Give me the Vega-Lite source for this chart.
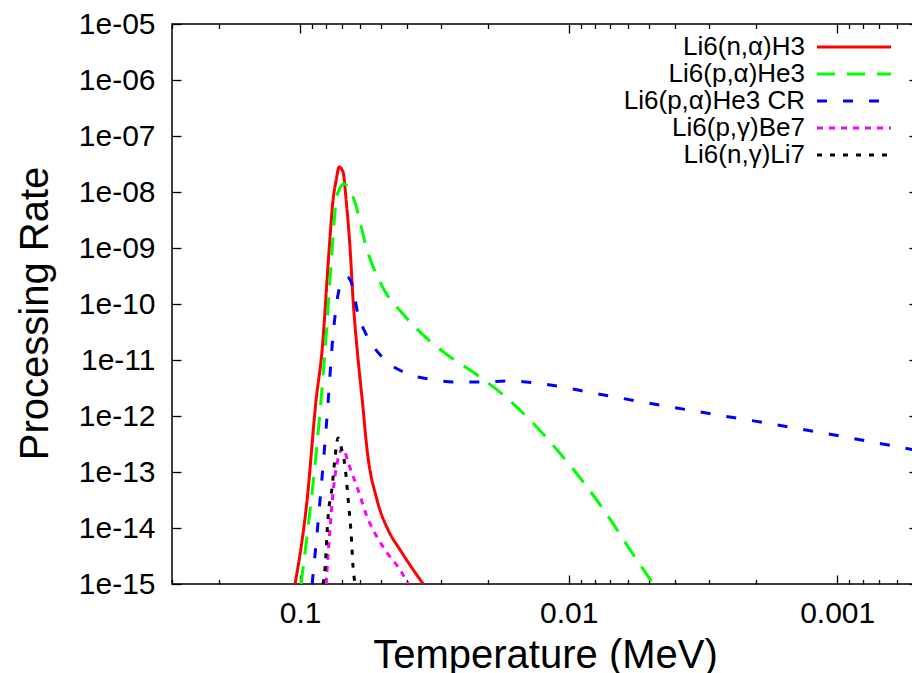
{
  "$schema": "https://vega.github.io/schema/vega-lite/v6.json",
  "autosize": "none",
  "width": 746,
  "height": 560,
  "padding": {"left": 172, "top": 24, "right": -6, "bottom": 89},
  "background": "white",
  "config": {
    "font": "Liberation Sans",
    "view": {"stroke": "black", "strokeWidth": 1.5},
    "axis": {
      "domain": false,
      "grid": false,
      "tickColor": "black",
      "tickWidth": 1.3,
      "labelColor": "black",
      "labelFont": "Liberation Sans",
      "labelFontSize": 30,
      "labelOverlap": false,
      "labelFlush": false,
      "labelBound": false,
      "titleFont": "Liberation Sans",
      "titleFontSize": 40,
      "titleFontWeight": "normal",
      "titleColor": "black"
    },
    "legend": {
      "orient": "none",
      "legendX": 669,
      "legendY": 10,
      "padding": 0,
      "symbolType": "M-4,0H4",
      "symbolSize": 342,
      "symbolStrokeWidth": 3,
      "labelFont": "Liberation Sans",
      "labelFontSize": 26,
      "labelColor": "black",
      "labelAlign": "right",
      "labelOffset": -62,
      "labelLimit": 0,
      "rowPadding": 1,
      "title": null
    }
  },
  "data": {
    "values": [
      {"s": "Li6(n,α)H3", "T": 0.1044, "R": 1e-15},
      {"s": "Li6(n,α)H3", "T": 0.0942, "R": 3.16e-14},
      {"s": "Li6(n,α)H3", "T": 0.0872, "R": 1.93e-12},
      {"s": "Li6(n,α)H3", "T": 0.0828, "R": 1.51e-11},
      {"s": "Li6(n,α)H3", "T": 0.0780, "R": 9.21e-10},
      {"s": "Li6(n,α)H3", "T": 0.0754, "R": 7.2e-9},
      {"s": "Li6(n,α)H3", "T": 0.0734, "R": 1.64e-8},
      {"s": "Li6(n,α)H3", "T": 0.0716, "R": 2.79e-8},
      {"s": "Li6(n,α)H3", "T": 0.0692, "R": 2.28e-8},
      {"s": "Li6(n,α)H3", "T": 0.0674, "R": 7.2e-9},
      {"s": "Li6(n,α)H3", "T": 0.0651, "R": 9.21e-10},
      {"s": "Li6(n,α)H3", "T": 0.0635, "R": 1.18e-10},
      {"s": "Li6(n,α)H3", "T": 0.0613, "R": 1.51e-11},
      {"s": "Li6(n,α)H3", "T": 0.0587, "R": 1.93e-12},
      {"s": "Li6(n,α)H3", "T": 0.0563, "R": 2.47e-13},
      {"s": "Li6(n,α)H3", "T": 0.0517, "R": 3.16e-14},
      {"s": "Li6(n,α)H3", "T": 0.0470, "R": 9.21e-15},
      {"s": "Li6(n,α)H3", "T": 0.0424, "R": 4.05e-15},
      {"s": "Li6(n,α)H3", "T": 0.0383, "R": 1.93e-15},
      {"s": "Li6(n,α)H3", "T": 0.0348, "R": 1e-15},

      {"s": "Li6(p,α)He3", "T": 0.0992, "R": 1e-15},
      {"s": "Li6(p,α)He3", "T": 0.0842, "R": 1.28e-12},
      {"s": "Li6(p,α)He3", "T": 0.0807, "R": 1.51e-11},
      {"s": "Li6(p,α)He3", "T": 0.0760, "R": 9.21e-10},
      {"s": "Li6(p,α)He3", "T": 0.0734, "R": 7.2e-9},
      {"s": "Li6(p,α)He3", "T": 0.0710, "R": 1.18e-8},
      {"s": "Li6(p,α)He3", "T": 0.0686, "R": 1.39e-8},
      {"s": "Li6(p,α)He3", "T": 0.0657, "R": 1.18e-8},
      {"s": "Li6(p,α)He3", "T": 0.0629, "R": 7.2e-9},
      {"s": "Li6(p,α)He3", "T": 0.0563, "R": 9.21e-10},
      {"s": "Li6(p,α)He3", "T": 0.0491, "R": 1.93e-10},
      {"s": "Li6(p,α)He3", "T": 0.0417, "R": 6.9e-11},
      {"s": "Li6(p,α)He3", "T": 0.0342, "R": 2.58e-11},
      {"s": "Li6(p,α)He3", "T": 0.0276, "R": 1.13e-11},
      {"s": "Li6(p,α)He3", "T": 0.0219, "R": 5.4e-12},
      {"s": "Li6(p,α)He3", "T": 0.0175, "R": 2.37e-12},
      {"s": "Li6(p,α)He3", "T": 0.01428, "R": 9.59e-13},
      {"s": "Li6(p,α)He3", "T": 0.01104, "R": 2.47e-13},
      {"s": "Li6(p,α)He3", "T": 0.00906, "R": 7.81e-14},
      {"s": "Li6(p,α)He3", "T": 0.00731, "R": 1.93e-14},
      {"s": "Li6(p,α)He3", "T": 0.00590, "R": 4.05e-15},
      {"s": "Li6(p,α)He3", "T": 0.00484, "R": 1e-15},

      {"s": "Li6(p,α)He3 CR", "T": 0.0902, "R": 1e-15},
      {"s": "Li6(p,α)He3 CR", "T": 0.0842, "R": 3.3e-14},
      {"s": "Li6(p,α)He3 CR", "T": 0.0793, "R": 1.04e-12},
      {"s": "Li6(p,α)He3 CR", "T": 0.0754, "R": 2.8e-11},
      {"s": "Li6(p,α)He3 CR", "T": 0.0728, "R": 1.18e-10},
      {"s": "Li6(p,α)He3 CR", "T": 0.0704, "R": 2.37e-10},
      {"s": "Li6(p,α)He3 CR", "T": 0.0668, "R": 3.03e-10},
      {"s": "Li6(p,α)He3 CR", "T": 0.0640, "R": 2.18e-10},
      {"s": "Li6(p,α)He3 CR", "T": 0.0608, "R": 6.37e-11},
      {"s": "Li6(p,α)He3 CR", "T": 0.0573, "R": 3.16e-11},
      {"s": "Li6(p,α)He3 CR", "T": 0.0495, "R": 1.13e-11},
      {"s": "Li6(p,α)He3 CR", "T": 0.0413, "R": 6.11e-12},
      {"s": "Li6(p,α)He3 CR", "T": 0.0334, "R": 4.58e-12},
      {"s": "Li6(p,α)He3 CR", "T": 0.0265, "R": 4.05e-12},
      {"s": "Li6(p,α)He3 CR", "T": 0.0210, "R": 4.05e-12},
      {"s": "Li6(p,α)He3 CR", "T": 0.0168, "R": 4.22e-12},
      {"s": "Li6(p,α)He3 CR", "T": 0.01333, "R": 3.88e-12},
      {"s": "Li6(p,α)He3 CR", "T": 0.01057, "R": 3.3e-12},
      {"s": "Li6(p,α)He3 CR", "T": 0.00846, "R": 2.68e-12},
      {"s": "Li6(p,α)He3 CR", "T": 0.00671, "R": 2.18e-12},
      {"s": "Li6(p,α)He3 CR", "T": 0.00437, "R": 1.51e-12},
      {"s": "Li6(p,α)He3 CR", "T": 0.002775, "R": 1.04e-12},
      {"s": "Li6(p,α)He3 CR", "T": 0.001747, "R": 7.19e-13},
      {"s": "Li6(p,α)He3 CR", "T": 0.001128, "R": 4.97e-13},
      {"s": "Li6(p,α)He3 CR", "T": 0.00071, "R": 3.3e-13},
      {"s": "Li6(p,α)He3 CR", "T": 0.0005, "R": 2.4e-13},

      {"s": "Li6(p,γ)Be7", "T": 0.0800, "R": 1e-15},
      {"s": "Li6(p,γ)Be7", "T": 0.0773, "R": 1.04e-14},
      {"s": "Li6(p,γ)Be7", "T": 0.0754, "R": 4.22e-14},
      {"s": "Li6(p,γ)Be7", "T": 0.0728, "R": 1.45e-13},
      {"s": "Li6(p,γ)Be7", "T": 0.0692, "R": 2.68e-13},
      {"s": "Li6(p,γ)Be7", "T": 0.0662, "R": 1.45e-13},
      {"s": "Li6(p,γ)Be7", "T": 0.0608, "R": 4.77e-14},
      {"s": "Li6(p,γ)Be7", "T": 0.0563, "R": 1.57e-14},
      {"s": "Li6(p,γ)Be7", "T": 0.0517, "R": 6.9e-15},
      {"s": "Li6(p,γ)Be7", "T": 0.0474, "R": 3.58e-15},
      {"s": "Li6(p,γ)Be7", "T": 0.0424, "R": 1.78e-15},
      {"s": "Li6(p,γ)Be7", "T": 0.0396, "R": 1e-15},

      {"s": "Li6(n,γ)Li7", "T": 0.0821, "R": 1e-15},
      {"s": "Li6(n,γ)Li7", "T": 0.0807, "R": 2.01e-15},
      {"s": "Li6(n,γ)Li7", "T": 0.0787, "R": 1.57e-14},
      {"s": "Li6(n,γ)Li7", "T": 0.0760, "R": 5.4e-14},
      {"s": "Li6(n,γ)Li7", "T": 0.0741, "R": 1.85e-13},
      {"s": "Li6(n,γ)Li7", "T": 0.0722, "R": 4.05e-13},
      {"s": "Li6(n,γ)Li7", "T": 0.0704, "R": 2.79e-13},
      {"s": "Li6(n,γ)Li7", "T": 0.0680, "R": 1.23e-13},
      {"s": "Li6(n,γ)Li7", "T": 0.0662, "R": 3.16e-14},
      {"s": "Li6(n,γ)Li7", "T": 0.0646, "R": 8.15e-15},
      {"s": "Li6(n,γ)Li7", "T": 0.0635, "R": 2.01e-15},
      {"s": "Li6(n,γ)Li7", "T": 0.0624, "R": 1e-15}
    ]
  },
  "layer": [
    {
      "mark": {"type": "line", "interpolate": "monotone", "clip": true},
      "encoding": {
        "x": {
          "field": "T", "type": "quantitative",
          "scale": {"type": "log", "domain": [0.0005, 0.3], "reverse": true, "nice": false},
          "axis": {
            "orient": "bottom",
            "title": "Temperature (MeV)",
            "titleBaseline": "alphabetic",
            "titleY": 83,
            "values": [0.3, 0.2, 0.1, 0.09, 0.08, 0.07, 0.06, 0.05, 0.04, 0.03, 0.02, 0.01, 0.009, 0.008, 0.007, 0.006, 0.005, 0.004, 0.003, 0.002, 0.001, 0.0009, 0.0008, 0.0007, 0.0006, 0.0005],
            "labelExpr": "datum.value == 0.1 ? '0.1' : datum.value == 0.01 ? '0.01' : datum.value == 0.001 ? '0.001' : ''",
            "tickSize": {"condition": {"test": "datum.value == 0.1 || datum.value == 0.01 || datum.value == 0.001", "value": -9}, "value": -4.5},
            "labelPadding": 23
          }
        },
        "y": {
          "field": "R", "type": "quantitative",
          "scale": {"type": "log", "domain": [1e-15, 1e-5], "nice": false},
          "axis": {
            "orient": "left",
            "title": "Processing Rate",
            "titleX": -137,
            "titleY": 289,
            "titleAngle": 270,
            "titleAlign": "center",
            "titleBaseline": "middle",
            "values": [1e-15, 1e-14, 1e-13, 1e-12, 1e-11, 1e-10, 1e-9, 1e-8, 1e-7, 1e-6, 1e-5],
            "labelExpr": "'1e-' + format(-round(log(datum.value)/LN10), '02d')",
            "tickSize": -9,
            "labelPadding": 26
          }
        },
        "color": {
          "field": "s", "type": "nominal",
          "scale": {
            "domain": ["Li6(n,α)H3", "Li6(p,α)He3", "Li6(p,α)He3 CR", "Li6(p,γ)Be7", "Li6(n,γ)Li7"],
            "range": ["#ff0000", "#00ff00", "#0000ff", "#ff00ff", "#000000"]
          },
          "legend": {"title": null}
        },
        "strokeDash": {
          "field": "s", "type": "nominal",
          "scale": {
            "domain": ["Li6(n,α)H3", "Li6(p,α)He3", "Li6(p,α)He3 CR", "Li6(p,γ)Be7", "Li6(n,γ)Li7"],
            "range": [[1, 0], [18, 12], [10, 16], [6, 6], [5, 8]]
          },
          "legend": {"title": null}
        },
        "strokeWidth": {
          "field": "s", "type": "nominal",
          "scale": {
            "domain": ["Li6(n,α)H3", "Li6(p,α)He3", "Li6(p,α)He3 CR", "Li6(p,γ)Be7", "Li6(n,γ)Li7"],
            "range": [3, 3, 3, 3, 1.2]
          },
          "legend": {"title": null}
        }
      }
    },
    {
      "mark": {"type": "line", "opacity": 0},
      "encoding": {
        "x": {
          "field": "T", "type": "quantitative",
          "scale": {"type": "log", "domain": [0.0005, 0.3], "reverse": true, "nice": false},
          "axis": {
            "orient": "top",
            "title": null,
            "labels": false,
            "values": [0.3, 0.2, 0.1, 0.09, 0.08, 0.07, 0.06, 0.05, 0.04, 0.03, 0.02, 0.01, 0.009, 0.008, 0.007, 0.006, 0.005, 0.004, 0.003, 0.002, 0.001, 0.0009, 0.0008, 0.0007, 0.0006, 0.0005],
            "tickSize": {"condition": {"test": "datum.value == 0.1 || datum.value == 0.01 || datum.value == 0.001", "value": -9}, "value": -4.5}
          }
        },
        "y": {
          "field": "R", "type": "quantitative",
          "scale": {"type": "log", "domain": [1e-15, 1e-5], "nice": false},
          "axis": {
            "orient": "right",
            "title": null,
            "labels": false,
            "values": [1e-15, 1e-14, 1e-13, 1e-12, 1e-11, 1e-10, 1e-9, 1e-8, 1e-7, 1e-6, 1e-5],
            "tickSize": -9
          }
        },
        "detail": {"field": "s", "type": "nominal"}
      }
    }
  ],
  "resolve": {"axis": {"x": "independent", "y": "independent"}}
}
